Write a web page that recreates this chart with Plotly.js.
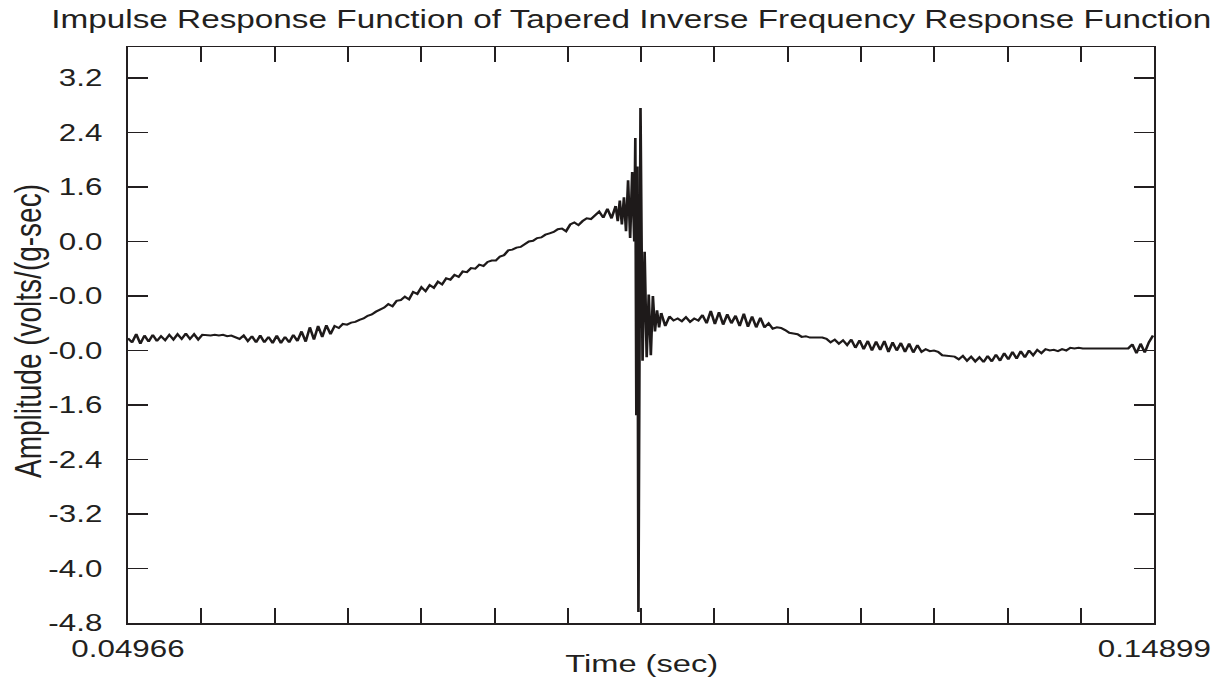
<!DOCTYPE html>
<html><head><meta charset="utf-8">
<script src="https://cdn.plot.ly/plotly-3.0.1.min.js"></script>
<style>
html,body{margin:0;padding:0;background:#fff;overflow:hidden;}
#wrap{width:1221px;height:683px;overflow:hidden;position:relative;}
#chart{width:916px;height:683px;transform:scaleX(1.33297);transform-origin:0 0;}
</style></head><body><div id="wrap"><div id="chart"></div></div>
<script>
// ---- data ----
const chartTitle = 'Impulse Response Function of Tapered Inverse Frequency Response Function';
const xTitle = 'Time (sec)';
const yTitle = 'Amplitude (volts/(g-sec)';
const timeStart = 0.04966;
const timeEnd = 0.14899;
const sampleStep = 0.0004;

// before the impulse: samples every 0.0004 s starting at 0.04966
const preImpulseAmp = [
 -0.62,-0.68,-0.56,-0.70,-0.58,-0.67,-0.57,-0.66,-0.59,-0.65,
 -0.57,-0.64,-0.56,-0.63,-0.55,-0.63,-0.56,-0.64,-0.57,-0.58,
 -0.58,-0.57,-0.58,-0.57,-0.59,-0.58,-0.60,-0.63,-0.58,-0.66,
 -0.59,-0.68,-0.58,-0.68,-0.60,-0.69,-0.58,-0.69,-0.60,-0.68,
 -0.57,-0.66,-0.52,-0.67,-0.46,-0.64,-0.44,-0.60,-0.43,-0.56,
 -0.44,-0.47,-0.41,-0.42,-0.39,-0.38,-0.35,-0.33,-0.29,-0.27,
 -0.23,-0.20,-0.17,-0.12,-0.15,-0.07,-0.06,-0.01,-0.05,0.06,
 0.03,0.13,0.07,0.16,0.12,0.21,0.17,0.26,0.24,0.31,
 0.28,0.36,0.35,0.41,0.40,0.46,0.44,0.50,0.52,0.52,
 0.58,0.60,0.67,0.68,0.71,0.72,0.76,0.80,0.81,0.85,
 0.86,0.90,0.92,0.94,0.98,0.99,0.95,1.05,1.08,1.04,
 1.10,1.14,1.13,1.18,1.24,1.15,1.28,1.14,1.32
];

// the impulse itself, finer time resolution
const impulseTime = [0.09686,0.09706,0.09726,0.09746,0.09766,0.09786,0.09806,0.09826,0.09846,0.09866,
 0.09876,0.09886,0.09896,0.09906,0.09926,0.09946,0.09966,0.09986,0.10006,0.10026,
 0.10046,0.10066,0.10086,0.10106,0.10126];
const impulseAmp = [1.32,1.10,1.40,1.05,1.45,0.95,1.70,0.85,1.82,0.80,
 2.32,-1.75,1.90,-4.64,2.76,-0.95,0.65,-0.90,0.02,-0.87,
 0.00,-0.52,-0.21,-0.46,-0.25];

// after the impulse: samples every 0.0004 s starting at 0.10126
const postImpulseStart = 0.10126;
const postImpulseAmp = [
 -0.25,-0.44,-0.30,-0.36,-0.33,-0.37,-0.31,-0.38,-0.33,-0.36,
 -0.28,-0.40,-0.22,-0.41,-0.24,-0.42,-0.27,-0.40,-0.29,-0.44,
 -0.26,-0.45,-0.30,-0.46,-0.32,-0.46,-0.40,-0.48,-0.46,-0.47,
 -0.50,-0.54,-0.55,-0.56,-0.60,-0.59,-0.61,-0.61,-0.62,-0.61,
 -0.63,-0.68,-0.64,-0.70,-0.65,-0.72,-0.64,-0.76,-0.65,-0.78,
 -0.66,-0.80,-0.67,-0.79,-0.66,-0.82,-0.68,-0.80,-0.69,-0.82,
 -0.70,-0.83,-0.72,-0.82,-0.78,-0.81,-0.80,-0.82,-0.87,-0.88,
 -0.88,-0.89,-0.93,-0.88,-0.95,-0.89,-0.96,-0.90,-0.97,-0.88,
 -0.96,-0.86,-0.95,-0.84,-0.93,-0.82,-0.92,-0.81,-0.90,-0.80,
 -0.87,-0.79,-0.84,-0.78,-0.80,-0.79,-0.81,-0.78,-0.80,-0.76,
 -0.77,-0.76,-0.77,-0.77,-0.76,-0.77,-0.77,-0.76,-0.77,-0.77,
 -0.77,-0.77,-0.76,-0.77,-0.71,-0.84,-0.70,-0.83,-0.68,-0.58
];

const xTickVals = [0.04966,0.056755,0.06385,0.070945,0.07804,0.085135,0.09223,0.099325,
 0.10642,0.113515,0.12061,0.127705,0.1348,0.141895,0.14899];
const xTickText = ['0.04966','','','','','','','','','','','','','','0.14899'];
const yTickVals = [3.2,2.4,1.6,0.8,0.0,-0.8,-1.6,-2.4,-3.2,-4.0,-4.8];
const yTickText = ['3.2','2.4','1.6','0.0','-0.0','-0.0','-1.6','-2.4','-3.2','-4.0','-4.8'];
const yMax = 3.655;
const yMin = -4.8;

// ---- drawing ----
const ink = '#231f20';
const lineStyle = {color: '#1e1a1a', width: 2};
const traces = [
  {type: 'scatter', mode: 'lines', x0: timeStart, dx: sampleStep, y: preImpulseAmp, line: lineStyle, hoverinfo: 'skip'},
  {type: 'scatter', mode: 'lines', x: impulseTime, y: impulseAmp, line: lineStyle, hoverinfo: 'skip'},
  {type: 'scatter', mode: 'lines', x0: postImpulseStart, dx: sampleStep, y: postImpulseAmp, line: lineStyle, hoverinfo: 'skip'}
];
const font = 'Liberation Sans, Arial, Helvetica, sans-serif';
const plotL = 96, plotR = 49.5, plotT = 47, plotB = 60;
const plotW = 916 - plotL - plotR, plotH = 683 - plotT - plotB;
const layout = {
  width: 916, height: 683,
  margin: {l: plotL, r: plotR, t: plotT, b: plotB, pad: 0},
  paper_bgcolor: '#ffffff', plot_bgcolor: '#ffffff',
  showlegend: false,
  font: {family: font, color: ink},
  title: {text: chartTitle, font: {family: font, size: 25, color: ink},
          xref: 'container', x: 0.517, xanchor: 'center', yref: 'container', y: 0.972, yanchor: 'middle'},
  xaxis: {range: [timeStart, timeEnd], tickmode: 'array', tickvals: xTickVals, ticktext: xTickText,
          ticks: 'inside', ticklen: 15, tickwidth: 1.5, tickcolor: ink,
          showline: true, linecolor: ink, linewidth: 1.5, mirror: 'ticks',
          showgrid: false, zeroline: false, automargin: false,
          tickfont: {family: font, size: 23.5, color: ink}, ticklabelstandoff: 4},
  yaxis: {range: [yMin, yMax], tickmode: 'array', tickvals: yTickVals, ticktext: yTickText,
          ticks: 'inside', ticklen: 15, tickwidth: 1.5, tickcolor: ink,
          showline: true, linecolor: ink, linewidth: 1.5, mirror: 'ticks',
          showgrid: false, zeroline: false, automargin: false,
          tickfont: {family: font, size: 23.5, color: ink}, ticklabelstandoff: 13},
  annotations: [
    {text: yTitle, textangle: -90, showarrow: false,
     xref: 'paper', x: (21 - plotL) / plotW, xanchor: 'center',
     yref: 'paper', y: (623 - 331) / plotH, yanchor: 'middle',
     font: {family: font, size: 28, color: ink}},
    {text: xTitle, showarrow: false,
     xref: 'paper', x: 0.5, xanchor: 'center',
     yref: 'paper', y: -(663 - 623) / plotH, yanchor: 'middle',
     font: {family: font, size: 24.5, color: ink}}
  ]
};
Plotly.newPlot('chart', traces, layout, {staticPlot: true, displayModeBar: false});
</script></body></html>
